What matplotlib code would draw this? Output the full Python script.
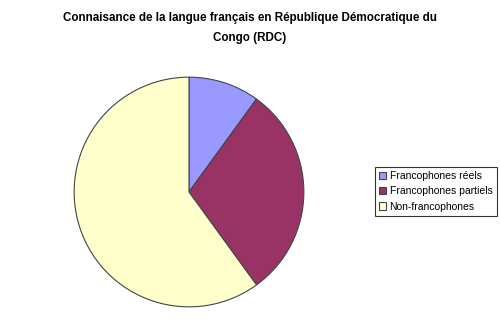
import matplotlib.pyplot as plt

# -------------------------------------------------------
# Données
# -------------------------------------------------------

labels = ["Francophones réels", "Francophones partiels", "Non-francophones"]
shares = [10, 30, 60]
colors = ["#9999FF", "#993366", "#FFFFCC"]

title = "Connaisance de la langue français en République Démocratique du\nCongo (RDC)"

# -------------------------------------------------------
# Graphique
# -------------------------------------------------------

plt.rcParams["font.family"] = ["Liberation Sans", "DejaVu Sans"]

W, H = 500, 334
fig = plt.figure(figsize=(W / 100, H / 100), dpi=100)

cx, cy, r = 189, 192, 116
ax = fig.add_axes([(cx - r) / W, (H - cy - r) / H, 2 * r / W, 2 * r / H])

wedges, _ = ax.pie(
    shares,
    colors=colors,
    startangle=90,
    counterclock=False,
    radius=1,
    wedgeprops=dict(edgecolor="#444444", linewidth=0.8),
)
ax.set_xlim(-1.01, 1.01)
ax.set_ylim(-1.01, 1.01)
ax.set_aspect("equal")

fig.text(0.5, 1 - 28 / H, title, ha="center", va="center",
         fontsize=8.4, fontweight="bold", linespacing=1.8)

leg = fig.legend(
    wedges, labels,
    loc="upper left",
    bbox_to_anchor=(375 / W, 1 - 167 / H),
    fontsize=7.5,
    frameon=True,
    fancybox=False,
    handlelength=0.7,
    handleheight=0.7,
    handletextpad=0.3,
    labelspacing=0.5,
    borderpad=0.4,
    borderaxespad=0,
)
leg.get_frame().set_edgecolor("black")
leg.get_frame().set_linewidth(0.8)

fig.savefig("out.png", dpi=100)
